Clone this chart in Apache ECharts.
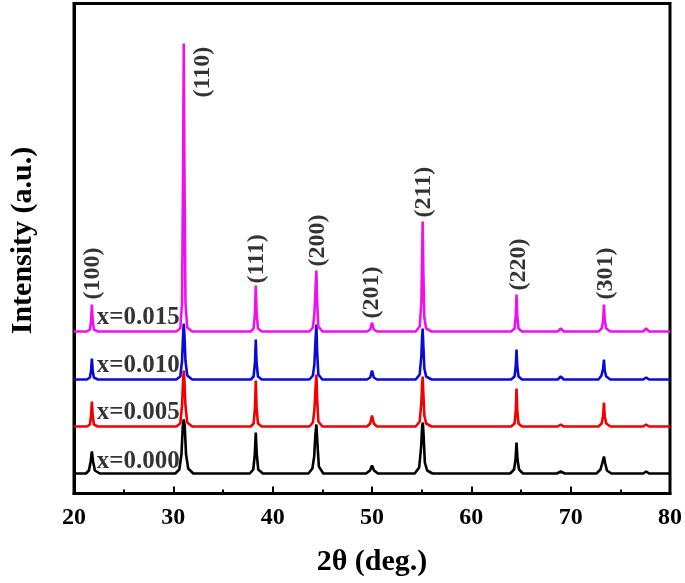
<!DOCTYPE html>
<html>
<head>
<meta charset="utf-8">
<script src="https://cdn.jsdelivr.net/npm/echarts@6/dist/echarts.min.js"></script>
<style>
html,body{margin:0;padding:0;background:#fff;}
#chart{width:685px;height:583px;}
</style>
</head>
<body>
<div id="chart"></div>
<script>
// ---- data (intensity above each pattern's own baseline, arbitrary units) ----
const sampleNames = ['x=0.000', 'x=0.005', 'x=0.010', 'x=0.015'];
const sampleColors = ['#000000', '#f20000', '#0a0ad6', '#ee11ee'];
const offsets = [19, 66, 113, 161];

const x000 = [[20,1],[21.2,1],[21.5,4],[21.68,13],[21.8,23],[21.92,13],[22.1,4],[22.6,1],
  [30.2,1],[30.6,5],[30.82,20],[30.95,48],[31.05,55],[31.15,48],[31.28,20],[31.5,6],[32.0,1],
  [37.7,1],[38.05,5],[38.2,20],[38.3,42],[38.4,20],[38.55,5],[39.0,1],
  [43.6,1],[44.0,6],[44.18,18],[44.3,40],[44.4,50],[44.5,32],[44.65,8],[45.1,1],
  [49.4,1],[49.8,4],[50.0,9],[50.2,4],[50.6,1],
  [54.3,1],[54.75,7],[54.95,28],[55.05,48],[55.12,52],[55.2,38],[55.32,12],[55.55,4],[56.1,1],
  [63.9,1],[64.3,5],[64.45,15],[64.55,32],[64.65,15],[64.8,5],[65.2,1],
  [68.6,1],[69.0,3],[69.4,1],
  [72.6,1],[73.0,5],[73.2,12],[73.35,18],[73.48,11],[73.65,4],[74.1,1],
  [77.3,1],[77.6,3],[77.9,1],[80,1]];

const x005 = [[20,1],[21.3,1],[21.6,3],[21.72,12],[21.8,26],[21.88,12],[22.0,3],[22.4,1],
  [30.3,1],[30.7,4],[30.88,22],[30.98,46],[31.05,57],[31.12,46],[31.22,22],[31.4,5],[31.9,1],
  [37.8,1],[38.08,4],[38.22,20],[38.3,47],[38.38,20],[38.52,4],[38.9,1],
  [43.7,1],[44.05,5],[44.2,17],[44.32,40],[44.4,53],[44.48,28],[44.6,6],[45.0,1],
  [49.5,1],[49.82,4],[50.0,12],[50.18,4],[50.5,1],
  [54.4,1],[54.8,6],[54.97,25],[55.05,44],[55.1,51],[55.17,34],[55.27,12],[55.45,4],[56.0,1],
  [64.0,1],[64.35,4],[64.47,16],[64.55,39],[64.63,16],[64.75,4],[65.1,1],
  [68.7,1],[69.0,3],[69.3,1],
  [72.8,1],[73.12,4],[73.27,12],[73.35,25],[73.43,11],[73.58,4],[74.0,1],
  [77.3,1],[77.6,3],[77.9,1],[80,1]];

const x010 = [[20,1],[21.3,1],[21.6,3],[21.72,10],[21.8,22],[21.88,10],[22.0,3],[22.4,1],
  [30.3,1],[30.7,4],[30.88,20],[30.98,45],[31.05,57],[31.12,45],[31.22,20],[31.4,5],[31.9,1],
  [37.8,1],[38.08,4],[38.22,18],[38.3,41],[38.38,18],[38.52,4],[38.9,1],
  [43.7,1],[44.05,5],[44.2,16],[44.32,42],[44.4,56],[44.48,28],[44.6,6],[45.0,1],
  [49.5,1],[49.82,3],[50.0,10],[50.18,3],[50.5,1],
  [54.4,1],[54.8,6],[54.97,25],[55.05,45],[55.1,52],[55.17,35],[55.27,12],[55.45,4],[56.0,1],
  [64.0,1],[64.35,4],[64.47,14],[64.55,31],[64.63,14],[64.75,4],[65.1,1],
  [68.7,1],[69.0,4],[69.3,1],
  [72.8,1],[73.1,5],[73.27,12],[73.35,21],[73.43,10],[73.58,4],[74.0,1],
  [77.3,1],[77.6,3],[77.9,1],[80,1]];

const x015 = [[20,1],[21.3,1],[21.6,3],[21.72,12],[21.8,28],[21.88,12],[22.0,3],[22.4,1],
  [30.3,1],[30.7,4],[30.88,30],[30.98,160],[31.05,289],[31.12,160],[31.22,30],[31.4,5],[31.9,1],
  [37.8,1],[38.08,4],[38.22,20],[38.3,47],[38.38,20],[38.52,4],[38.9,1],
  [43.7,1],[44.05,5],[44.2,18],[44.32,45],[44.4,62],[44.48,30],[44.6,6],[45.0,1],
  [49.5,1],[49.82,3],[50.0,10],[50.18,3],[50.5,1],
  [54.4,1],[54.8,6],[54.97,30],[55.05,80],[55.1,111],[55.17,60],[55.27,15],[55.45,4],[56.0,1],
  [64.0,1],[64.35,4],[64.47,16],[64.55,38],[64.63,16],[64.75,4],[65.1,1],
  [68.7,1],[69.0,4],[69.3,1],
  [72.8,1],[73.12,4],[73.27,12],[73.35,28],[73.43,12],[73.58,4],[74.0,1],
  [77.3,1],[77.6,4],[77.9,1],[80,1]];

const patterns = [x000, x005, x010, x015];

// peak (hkl) labels: text, 2θ of label, level of label's lower end
const hklNames = ['(100)', '(110)', '(111)', '(200)', '(201)', '(211)', '(220)', '(301)'];
const hklTheta = [21.9, 32.95, 38.4, 44.5, 50.0, 55.2, 64.8, 73.5];
const hklLevel = [194, 396, 210, 227, 175, 276, 203, 194];

// sample labels position
const sampleLabelTheta = 22.3;
const sampleLabelRise = [13, 15, 15, 15];

const xTicks = { min: 20, max: 80, interval: 10 };

// ---- chart ----
const FONT = 'Liberation Serif';
const chart = echarts.init(document.getElementById('chart'), null, { renderer: 'canvas' });

const lineSeries = patterns.map((p, i) => ({
  type: 'line',
  name: sampleNames[i],
  data: p.map(d => [d[0], d[1] + offsets[i]]),
  showSymbol: false,
  symbol: 'none',
  sampling: 'none',
  lineStyle: { color: sampleColors[i], width: 2.6 },
  itemStyle: { color: sampleColors[i] },
  z: 2 + i,
  silent: true
}));

const hklSeries = {
  type: 'scatter',
  symbolSize: 0,
  z: 10,
  silent: true,
  data: hklNames.map((n, i) => ({ name: n, value: [hklTheta[i], hklLevel[i]] })),
  label: {
    show: true,
    formatter: p => p.name,
    position: 'inside',
    rotate: 90,
    align: 'left',
    verticalAlign: 'middle',
    fontFamily: FONT,
    fontWeight: 'bold',
    fontSize: 24,
    color: '#000'
  }
};

const sampleSeries = {
  type: 'scatter',
  symbolSize: 0,
  z: 10,
  silent: true,
  data: sampleNames.map((n, i) => ({ name: n, value: [sampleLabelTheta, offsets[i] + sampleLabelRise[i]] })),
  label: {
    show: true,
    formatter: p => p.name,
    position: 'inside',
    align: 'left',
    verticalAlign: 'middle',
    fontFamily: FONT,
    fontWeight: 'bold',
    fontSize: 25,
    color: '#000'
  }
};

chart.setOption({
  animation: false,
  backgroundColor: '#fff',
  grid: {
    left: 61.5, right: 14, top: 3.5, bottom: 89.5,
    show: true, borderColor: '#000', borderWidth: 3, backgroundColor: 'transparent'
  },
  xAxis: {
    type: 'value',
    min: xTicks.min, max: xTicks.max, interval: xTicks.interval,
    name: '2θ (deg.)',
    nameLocation: 'middle',
    nameGap: 54,
    nameTextStyle: { fontFamily: FONT, fontWeight: 'bold', fontSize: 30, color: '#000' },
    axisLine: { show: true, onZero: false, lineStyle: { color: '#000', width: 3 } },
    axisTick: { show: true, inside: true, length: 7, lineStyle: { color: '#000', width: 2 } },
    minorTick: { show: true, splitNumber: 2, length: 4, lineStyle: { color: '#000', width: 2 } },
    splitLine: { show: false },
    minorSplitLine: { show: false },
    axisLabel: { fontFamily: FONT, fontWeight: 'bold', fontSize: 24, color: '#000', margin: 12 }
  },
  yAxis: {
    type: 'value',
    min: 0, max: 490,
    name: 'Intensity (a.u.)',
    nameLocation: 'middle',
    nameRotate: 90,
    nameGap: 36,
    nameTextStyle: { fontFamily: FONT, fontWeight: 'bold', fontSize: 30, color: '#000', padding: [0, 0, 0, 16] },
    axisLine: { show: true, lineStyle: { color: '#000', width: 3 } },
    axisTick: { show: false },
    axisLabel: { show: false },
    splitLine: { show: false }
  },
  series: [...lineSeries, hklSeries, sampleSeries]
});
</script>
</body>
</html>
